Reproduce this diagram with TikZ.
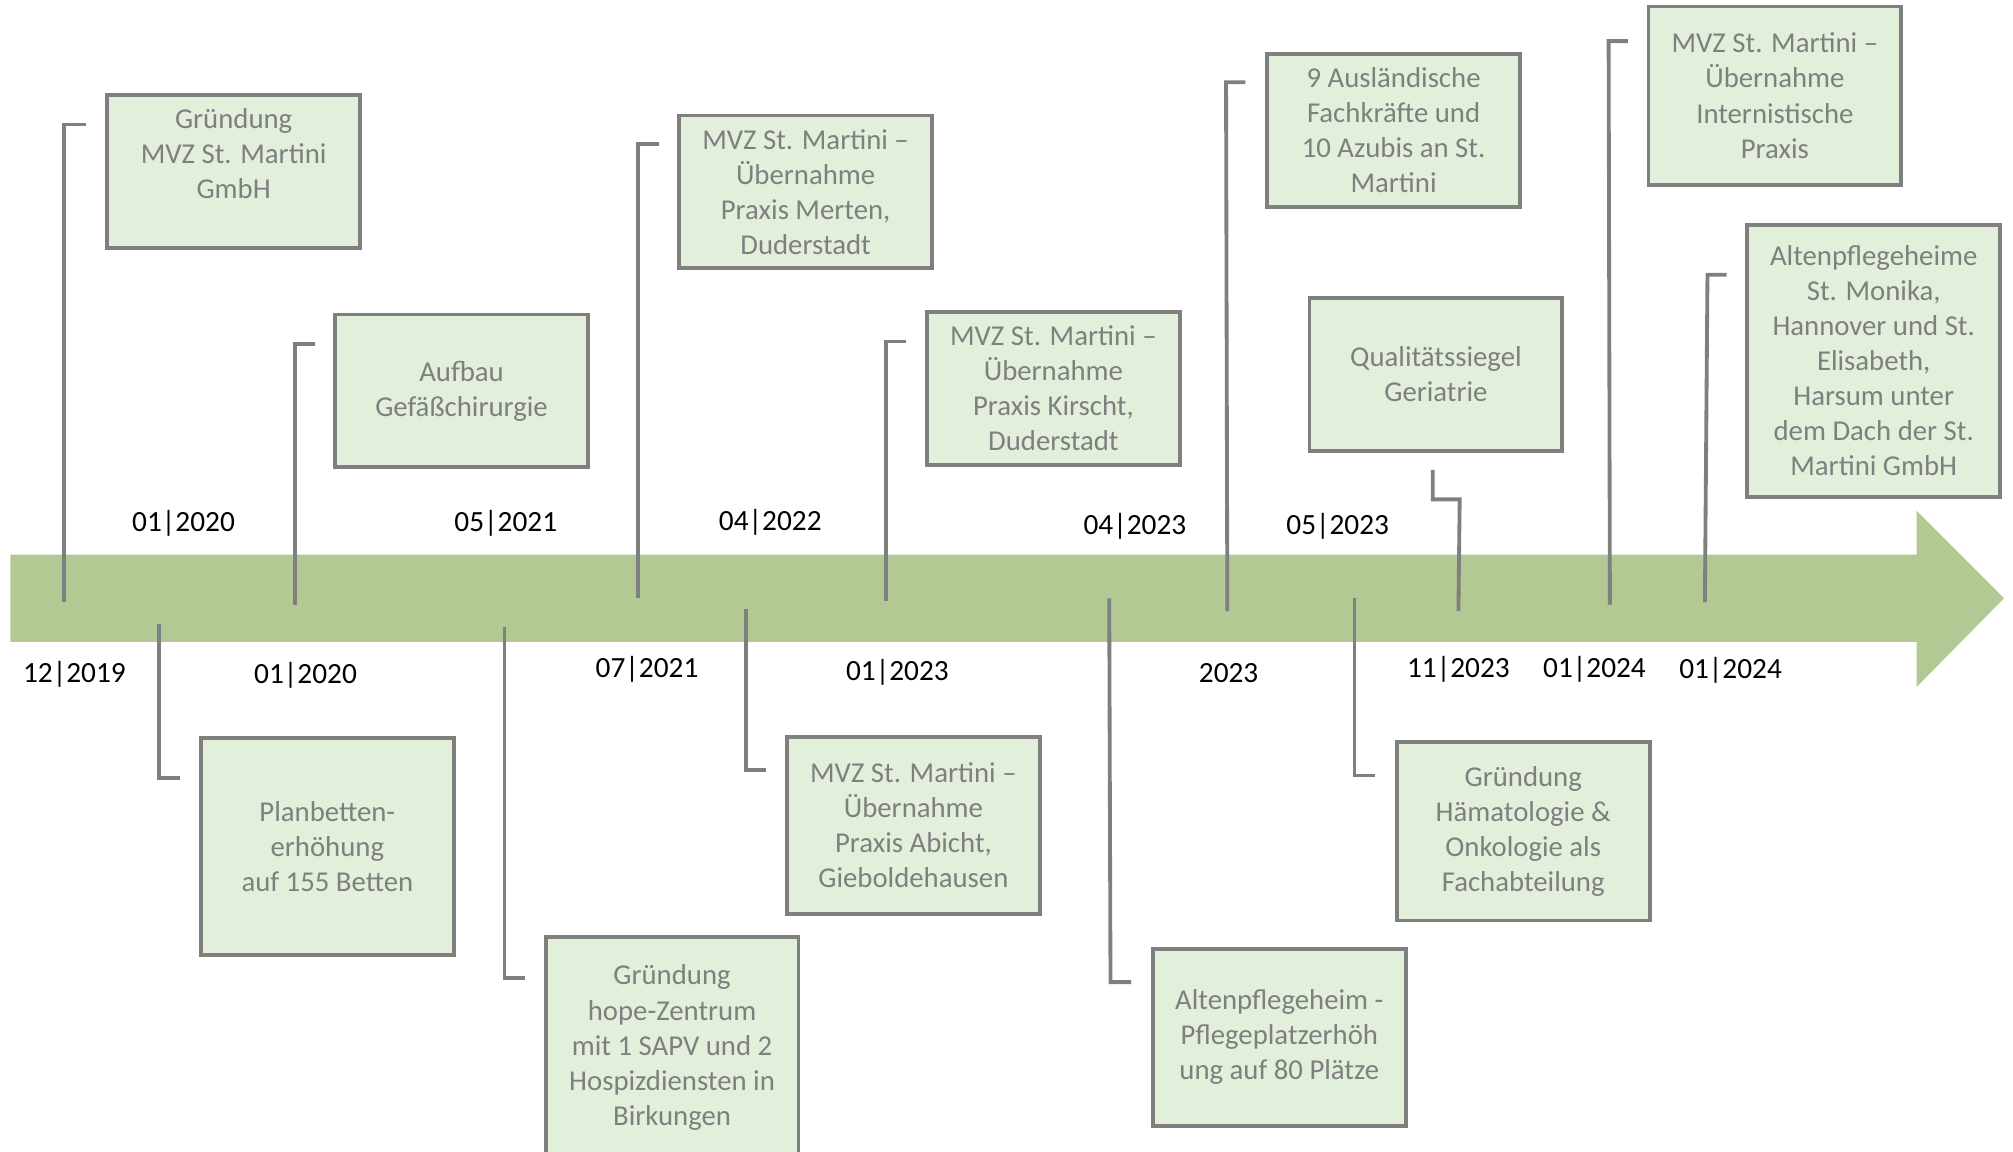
\documentclass[tikz,border=0pt]{standalone}
\usepackage{fontspec}
\setmainfont{Carlito}
\definecolor{barc}{HTML}{B2C993}
\definecolor{boxfill}{HTML}{E2EFDA}
\definecolor{grayc}{HTML}{7F7F7F}
\tikzset{
  evbox/.style={draw=grayc, fill=boxfill, line width=1.7pt, text=grayc, align=center,
    inner sep=0pt, minimum width=3.94cm, font=\fontsize{12.75}{15.55}\selectfont},
  conn/.style={draw=grayc, line width=1.7pt},
  datelbl/.style={text=black, inner sep=0pt, font=\fontsize{13}{15.5}\selectfont},
}
\begin{document}
\begin{tikzpicture}[x=0.02cm, y=-0.02cm]
\useasboundingbox (0,0) rectangle (1568,897);
\clip (0,0) rectangle (1568,897);
% timeline arrow
\fill[barc] (8,432) -- (1493,432) -- (1493,398) -- (1561,466) -- (1493,535) -- (1493,500) -- (8,500) -- cycle;

% connector coordinates
\coordinate (c1a) at (50,469);  \coordinate (c1b) at (50,97);   \coordinate (c1c) at (67,97);
\coordinate (c2a) at (230,471); \coordinate (c2b) at (230,268); \coordinate (c2c) at (245,268);
\coordinate (c3a) at (497,466); \coordinate (c3b) at (497,112); \coordinate (c3c) at (513,112);
\coordinate (c4a) at (690,468); \coordinate (c4b) at (690,266); \coordinate (c4c) at (706,266);
\coordinate (c5a) at (956,476); \coordinate (c5b) at (955,64);  \coordinate (c5c) at (970,64);
\coordinate (c6a) at (1136,476); \coordinate (c6b) at (1137,389); \coordinate (c6c) at (1116,389); \coordinate (c6d) at (1116,366);
\coordinate (c7a) at (1254,471); \coordinate (c7b) at (1253,32); \coordinate (c7c) at (1268,32);
\coordinate (c8a) at (1328,469); \coordinate (c8b) at (1330,214); \coordinate (c8c) at (1345,214);
\coordinate (d1a) at (124,486); \coordinate (d1b) at (124,606); \coordinate (d1c) at (140,606);
\coordinate (d2a) at (393,488); \coordinate (d2b) at (393,762); \coordinate (d2c) at (409,762);
\coordinate (d3a) at (581,474); \coordinate (d3b) at (581,600); \coordinate (d3c) at (597,600);
\coordinate (d4a) at (864,466); \coordinate (d4b) at (865,765); \coordinate (d4c) at (881,765);
\coordinate (d5a) at (1055,466); \coordinate (d5b) at (1055,604); \coordinate (d5c) at (1071,604);

\draw[conn] (c1a) -- (c1b) -- (c1c);
\draw[conn] (c2a) -- (c2b) -- (c2c);
\draw[conn] (c3a) -- (c3b) -- (c3c);
\draw[conn] (c4a) -- (c4b) -- (c4c);
\draw[conn] (c5a) -- (c5b) -- (c5c);
\draw[conn] (c6a) -- (c6b) -- (c6c) -- (c6d);
\draw[conn] (c7a) -- (c7b) -- (c7c);
\draw[conn] (c8a) -- (c8b) -- (c8c);
\draw[conn] (d1a) -- (d1b) -- (d1c);
\draw[conn] (d2a) -- (d2b) -- (d2c);
\draw[conn] (d3a) -- (d3b) -- (d3c);
\draw[conn] (d4a) -- (d4b) -- (d4c);
\draw[conn] (d5a) -- (d5b) -- (d5c);

% boxes
\node[evbox, minimum height=2.38cm] (b1) at (182,133.5) {Gründung\\MVZ St. Martini\\GmbH\\~};
\node[evbox, minimum height=2.38cm] (b2) at (359.5,304.5) {Aufbau\\Gefäßchirurgie};
\node[evbox, minimum height=3.38cm] (b3) at (255,659.5) {Planbetten-\\erhöhung\\auf 155 Betten};
\node[evbox, minimum height=3.44cm] (b4) at (523.5,816) {Gründung\\hope-Zentrum\\mit 1 SAPV und 2\\Hospizdiensten in\\Birkungen};
\node[evbox, minimum height=2.38cm] (b5) at (627.5,149.5) {MVZ St. Martini –\\Übernahme\\Praxis Merten,\\Duderstadt};
\node[evbox, minimum height=2.38cm] (b6) at (820.5,302.5) {MVZ St. Martini –\\Übernahme\\Praxis Kirscht,\\Duderstadt};
\node[evbox, minimum height=2.76cm] (b7) at (711.5,643) {MVZ St. Martini –\\Übernahme\\Praxis Abicht,\\Gieboldehausen};
\node[evbox, minimum height=2.76cm] (b8) at (996.5,808) {Altenpflegeheim -\\Pflegeplatzerhöh\\ung auf 80 Plätze};
\node[evbox, minimum height=2.38cm] (b9) at (1085.5,101.5) {9 Ausländische\\Fachkräfte und\\10 Azubis an St.\\Martini};
\node[evbox, minimum height=2.38cm] (b10) at (1118.5,291.5) {Qualitätssiegel\\Geriatrie};
\node[evbox, minimum height=2.78cm] (b11) at (1186.5,647.5) {Gründung\\Hämatologie \&\\Onkologie als\\Fachabteilung};
\node[evbox, minimum height=2.78cm] (b12) at (1382.5,74.5) {MVZ St. Martini –\\Übernahme\\Internistische\\Praxis};
\node[evbox, minimum height=4.24cm] (b13) at (1459.5,281) {Altenpflegeheime\\St. Monika,\\Hannover und St.\\Elisabeth,\\Harsum unter\\dem Dach der St.\\Martini GmbH};

% date labels above
\node[datelbl] (t1) at (143,408) {01|2020};
\node[datelbl] (t2) at (394,408) {05|2021};
\node[datelbl] (t3) at (600,407) {04|2022};
\node[datelbl] (t4) at (884,410) {04|2023};
\node[datelbl] (t5) at (1042,410) {05|2023};
% date labels below
\node[datelbl] (u1) at (58,525) {12|2019};
\node[datelbl] (u2) at (238,526) {01|2020};
\node[datelbl] (u3) at (504,521) {07|2021};
\node[datelbl] (u4) at (699,524) {01|2023};
\node[datelbl] (u5) at (957,524) {2023};
\node[datelbl] (u6) at (1136,521) {11|2023};
\node[datelbl] (u7) at (1242,521) {01|2024};
\node[datelbl] (u8) at (1348,522) {01|2024};
\end{tikzpicture}
\end{document}
